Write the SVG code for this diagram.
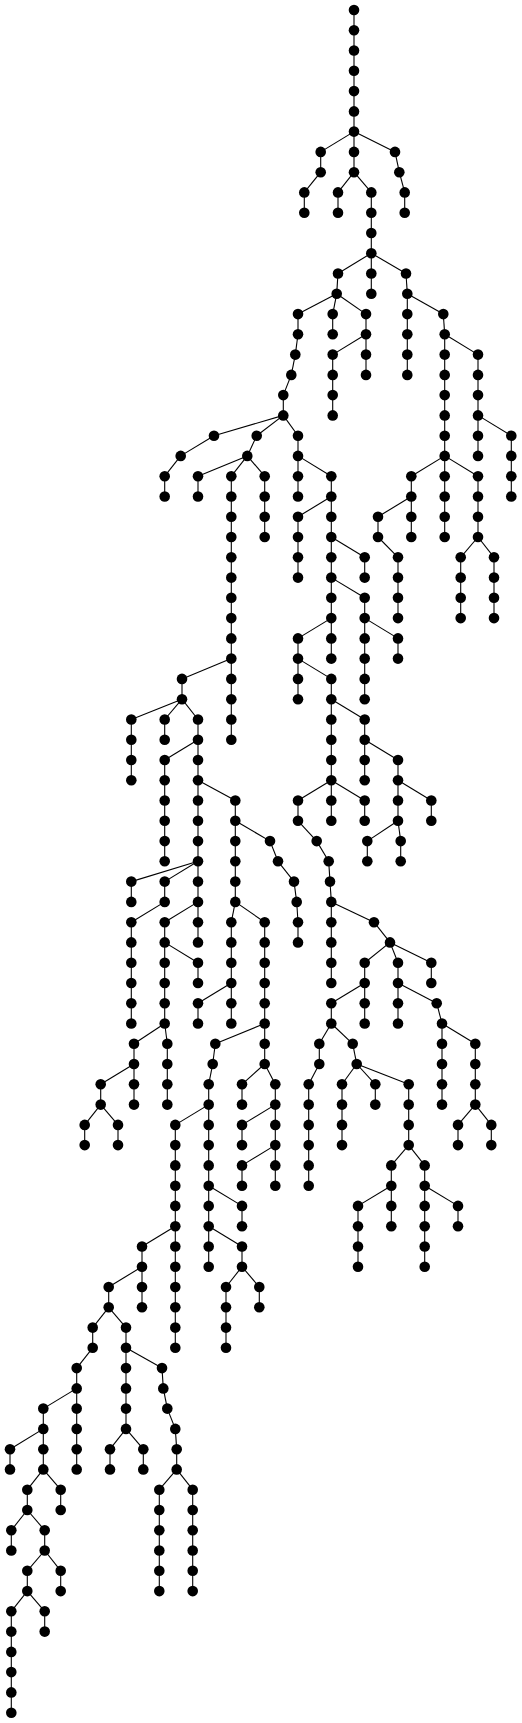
<svg xmlns="http://www.w3.org/2000/svg" xmlns:xlink="http://www.w3.org/1999/xlink" width="522" height="1723" viewBox="0 0 522 1723">
<style>
#edges line{stroke:#000;stroke-width:1.1;fill:none}
.nd{fill:#000}
</style>
<defs><circle id="d" class="nd" cx="0" cy="0" r="5.3"/></defs>
<rect width="522" height="1723" fill="#fff"/>
<g id="edges">
<line x1="354" y1="10" x2="354" y2="30.3"/>
<line x1="354" y1="30.3" x2="354" y2="50.5"/>
<line x1="354" y1="50.5" x2="354" y2="70.8"/>
<line x1="354" y1="70.8" x2="354" y2="91.1"/>
<line x1="354" y1="91.1" x2="354" y2="111.4"/>
<line x1="354" y1="111.4" x2="354" y2="131.6"/>
<line x1="354" y1="131.6" x2="320.7" y2="151.9"/><line x1="354" y1="131.6" x2="354" y2="151.9"/><line x1="354" y1="131.6" x2="395" y2="151.9"/>
<line x1="320.7" y1="151.9" x2="320.7" y2="172.2"/><line x1="354" y1="151.9" x2="354" y2="172.2"/><line x1="395" y1="151.9" x2="399.3" y2="172.2"/>
<line x1="320.7" y1="172.2" x2="304.3" y2="192.4"/><line x1="354" y1="172.2" x2="338" y2="192.4"/><line x1="354" y1="172.2" x2="371.3" y2="192.4"/><line x1="399.3" y1="172.2" x2="404.7" y2="192.4"/>
<line x1="304.3" y1="192.4" x2="304.3" y2="212.7"/><line x1="338" y1="192.4" x2="338" y2="212.7"/><line x1="371.3" y1="192.4" x2="371.3" y2="212.7"/><line x1="404.7" y1="192.4" x2="404.7" y2="212.7"/>
<line x1="371.3" y1="212.7" x2="371.3" y2="233"/>
<line x1="371.3" y1="233" x2="371.3" y2="253.2"/>
<line x1="371.3" y1="253.2" x2="338" y2="273.5"/><line x1="371.3" y1="253.2" x2="371.3" y2="273.5"/><line x1="371.3" y1="253.2" x2="406" y2="273.5"/>
<line x1="338" y1="273.5" x2="336.7" y2="293.8"/><line x1="371.3" y1="273.5" x2="371.3" y2="293.8"/><line x1="406" y1="273.5" x2="407.3" y2="293.8"/>
<line x1="336.7" y1="293.8" x2="298" y2="314.1"/><line x1="336.7" y1="293.8" x2="332.7" y2="314.1"/><line x1="336.7" y1="293.8" x2="366" y2="314.1"/><line x1="407.3" y1="293.8" x2="407.3" y2="314.1"/><line x1="407.3" y1="293.8" x2="443.3" y2="314.1"/>
<line x1="298" y1="314.1" x2="298" y2="334.3"/><line x1="332.7" y1="314.1" x2="332.7" y2="334.3"/><line x1="366" y1="314.1" x2="366" y2="334.3"/><line x1="407.3" y1="314.1" x2="407.3" y2="334.3"/><line x1="443.3" y1="314.1" x2="444.7" y2="334.3"/>
<line x1="298" y1="334.3" x2="295.3" y2="354.6"/><line x1="366" y1="334.3" x2="332.7" y2="354.6"/><line x1="366" y1="334.3" x2="366" y2="354.6"/><line x1="407.3" y1="334.3" x2="407.3" y2="354.6"/><line x1="444.7" y1="334.3" x2="444.7" y2="354.6"/><line x1="444.7" y1="334.3" x2="478" y2="354.6"/>
<line x1="295.3" y1="354.6" x2="291.3" y2="374.9"/><line x1="332.7" y1="354.6" x2="332.7" y2="374.9"/><line x1="366" y1="354.6" x2="366" y2="374.9"/><line x1="407.3" y1="354.6" x2="407.3" y2="374.9"/><line x1="444.7" y1="354.6" x2="444.7" y2="374.9"/><line x1="478" y1="354.6" x2="478" y2="374.9"/>
<line x1="291.3" y1="374.9" x2="283.3" y2="395.1"/><line x1="332.7" y1="374.9" x2="332.7" y2="395.1"/><line x1="444.7" y1="374.9" x2="444.7" y2="395.1"/><line x1="478" y1="374.9" x2="478" y2="395.1"/>
<line x1="283.3" y1="395.1" x2="283.3" y2="415.4"/><line x1="332.7" y1="395.1" x2="332.7" y2="415.4"/><line x1="444.7" y1="395.1" x2="444.7" y2="415.4"/><line x1="478" y1="395.1" x2="478" y2="415.4"/>
<line x1="283.3" y1="415.4" x2="214" y2="435.7"/><line x1="283.3" y1="415.4" x2="256.7" y2="435.7"/><line x1="283.3" y1="415.4" x2="298" y2="435.7"/><line x1="444.7" y1="415.4" x2="444.7" y2="435.7"/><line x1="478" y1="415.4" x2="478" y2="435.7"/><line x1="478" y1="415.4" x2="511.3" y2="435.7"/>
<line x1="214" y1="435.7" x2="180.7" y2="455.9"/><line x1="256.7" y1="435.7" x2="247.3" y2="455.9"/><line x1="298" y1="435.7" x2="298" y2="455.9"/><line x1="444.7" y1="435.7" x2="444.7" y2="455.9"/><line x1="478" y1="435.7" x2="478" y2="455.9"/><line x1="511.3" y1="435.7" x2="511.3" y2="455.9"/>
<line x1="180.7" y1="455.9" x2="164.7" y2="476.2"/><line x1="247.3" y1="455.9" x2="198" y2="476.2"/><line x1="247.3" y1="455.9" x2="231.3" y2="476.2"/><line x1="247.3" y1="455.9" x2="264.7" y2="476.2"/><line x1="298" y1="455.9" x2="298" y2="476.2"/><line x1="298" y1="455.9" x2="331.3" y2="476.2"/><line x1="444.7" y1="455.9" x2="411.3" y2="476.2"/><line x1="444.7" y1="455.9" x2="444.7" y2="476.2"/><line x1="444.7" y1="455.9" x2="478" y2="476.2"/><line x1="511.3" y1="455.9" x2="511.3" y2="476.2"/>
<line x1="164.7" y1="476.2" x2="164.7" y2="496.5"/><line x1="198" y1="476.2" x2="198" y2="496.5"/><line x1="231.3" y1="476.2" x2="231.3" y2="496.5"/><line x1="264.7" y1="476.2" x2="264.7" y2="496.5"/><line x1="298" y1="476.2" x2="298" y2="496.5"/><line x1="331.3" y1="476.2" x2="331.3" y2="496.5"/><line x1="411.3" y1="476.2" x2="411.3" y2="496.5"/><line x1="444.7" y1="476.2" x2="444.7" y2="496.5"/><line x1="478" y1="476.2" x2="478" y2="496.5"/><line x1="511.3" y1="476.2" x2="511.3" y2="496.5"/>
<line x1="231.3" y1="496.5" x2="231.3" y2="516.8"/><line x1="264.7" y1="496.5" x2="264.7" y2="516.8"/><line x1="331.3" y1="496.5" x2="298" y2="516.8"/><line x1="331.3" y1="496.5" x2="331.3" y2="516.8"/><line x1="411.3" y1="496.5" x2="378" y2="516.8"/><line x1="411.3" y1="496.5" x2="411.3" y2="516.8"/><line x1="444.7" y1="496.5" x2="444.7" y2="516.8"/><line x1="478" y1="496.5" x2="478" y2="516.8"/>
<line x1="231.3" y1="516.8" x2="231.3" y2="537"/><line x1="264.7" y1="516.8" x2="264.7" y2="537"/><line x1="298" y1="516.8" x2="298" y2="537"/><line x1="331.3" y1="516.8" x2="331.3" y2="537"/><line x1="378" y1="516.8" x2="378" y2="537"/><line x1="411.3" y1="516.8" x2="411.3" y2="537"/><line x1="444.7" y1="516.8" x2="444.7" y2="537"/><line x1="478" y1="516.8" x2="478" y2="537"/>
<line x1="231.3" y1="537" x2="231.3" y2="557.3"/><line x1="298" y1="537" x2="298" y2="557.3"/><line x1="331.3" y1="537" x2="331.3" y2="557.3"/><line x1="331.3" y1="537" x2="364.7" y2="557.3"/><line x1="378" y1="537" x2="398" y2="557.3"/><line x1="478" y1="537" x2="460.7" y2="557.3"/><line x1="478" y1="537" x2="494" y2="557.3"/>
<line x1="231.3" y1="557.3" x2="231.3" y2="577.6"/><line x1="298" y1="557.3" x2="298" y2="577.6"/><line x1="331.3" y1="557.3" x2="331.3" y2="577.6"/><line x1="364.7" y1="557.3" x2="364.7" y2="577.6"/><line x1="398" y1="557.3" x2="398" y2="577.6"/><line x1="460.7" y1="557.3" x2="460.7" y2="577.6"/><line x1="494" y1="557.3" x2="494" y2="577.6"/>
<line x1="231.3" y1="577.6" x2="231.3" y2="597.8"/><line x1="331.3" y1="577.6" x2="331.3" y2="597.8"/><line x1="331.3" y1="577.6" x2="364.7" y2="597.8"/><line x1="398" y1="577.6" x2="398" y2="597.8"/><line x1="460.7" y1="577.6" x2="460.7" y2="597.8"/><line x1="494" y1="577.6" x2="494" y2="597.8"/>
<line x1="231.3" y1="597.8" x2="231.3" y2="618.1"/><line x1="331.3" y1="597.8" x2="331.3" y2="618.1"/><line x1="364.7" y1="597.8" x2="364.7" y2="618.1"/><line x1="398" y1="597.8" x2="398" y2="618.1"/><line x1="460.7" y1="597.8" x2="460.7" y2="618.1"/><line x1="494" y1="597.8" x2="494" y2="618.1"/>
<line x1="231.3" y1="618.1" x2="231.3" y2="638.4"/><line x1="331.3" y1="618.1" x2="298" y2="638.4"/><line x1="331.3" y1="618.1" x2="331.3" y2="638.4"/><line x1="364.7" y1="618.1" x2="364.7" y2="638.4"/><line x1="364.7" y1="618.1" x2="398" y2="638.4"/>
<line x1="231.3" y1="638.4" x2="231.3" y2="658.6"/><line x1="298" y1="638.4" x2="298" y2="658.6"/><line x1="331.3" y1="638.4" x2="331.3" y2="658.6"/><line x1="364.7" y1="638.4" x2="364.7" y2="658.6"/><line x1="398" y1="638.4" x2="398" y2="658.6"/>
<line x1="231.3" y1="658.6" x2="182" y2="678.9"/><line x1="231.3" y1="658.6" x2="231.3" y2="678.9"/><line x1="298" y1="658.6" x2="298" y2="678.9"/><line x1="298" y1="658.6" x2="331.3" y2="678.9"/><line x1="364.7" y1="658.6" x2="364.7" y2="678.9"/>
<line x1="182" y1="678.9" x2="182" y2="699.2"/><line x1="231.3" y1="678.9" x2="231.3" y2="699.2"/><line x1="298" y1="678.9" x2="298" y2="699.2"/><line x1="331.3" y1="678.9" x2="331.3" y2="699.2"/><line x1="364.7" y1="678.9" x2="364.7" y2="699.2"/>
<line x1="182" y1="699.2" x2="131.3" y2="719.5"/><line x1="182" y1="699.2" x2="164.7" y2="719.5"/><line x1="182" y1="699.2" x2="198" y2="719.5"/><line x1="231.3" y1="699.2" x2="231.3" y2="719.5"/><line x1="331.3" y1="699.2" x2="331.3" y2="719.5"/><line x1="331.3" y1="699.2" x2="364.7" y2="719.5"/>
<line x1="131.3" y1="719.5" x2="131.3" y2="739.7"/><line x1="164.7" y1="719.5" x2="164.7" y2="739.7"/><line x1="198" y1="719.5" x2="198" y2="739.7"/><line x1="231.3" y1="719.5" x2="231.3" y2="739.7"/><line x1="331.3" y1="719.5" x2="331.3" y2="739.7"/><line x1="364.7" y1="719.5" x2="364.7" y2="739.7"/>
<line x1="131.3" y1="739.7" x2="131.3" y2="760"/><line x1="198" y1="739.7" x2="164.7" y2="760"/><line x1="198" y1="739.7" x2="198" y2="760"/><line x1="331.3" y1="739.7" x2="331.3" y2="760"/><line x1="364.7" y1="739.7" x2="364.7" y2="760"/><line x1="364.7" y1="739.7" x2="398" y2="760"/>
<line x1="131.3" y1="760" x2="131.3" y2="780.3"/><line x1="164.7" y1="760" x2="164.7" y2="780.3"/><line x1="198" y1="760" x2="198" y2="780.3"/><line x1="331.3" y1="760" x2="331.3" y2="780.3"/><line x1="364.7" y1="760" x2="364.7" y2="780.3"/><line x1="398" y1="760" x2="398" y2="780.3"/>
<line x1="164.7" y1="780.3" x2="164.7" y2="800.5"/><line x1="198" y1="780.3" x2="198" y2="800.5"/><line x1="198" y1="780.3" x2="235.3" y2="800.5"/><line x1="331.3" y1="780.3" x2="298" y2="800.5"/><line x1="331.3" y1="780.3" x2="331.3" y2="800.5"/><line x1="331.3" y1="780.3" x2="364.7" y2="800.5"/><line x1="398" y1="780.3" x2="398" y2="800.5"/><line x1="398" y1="780.3" x2="431.3" y2="800.5"/>
<line x1="164.7" y1="800.5" x2="164.7" y2="820.8"/><line x1="198" y1="800.5" x2="198" y2="820.8"/><line x1="235.3" y1="800.5" x2="235.3" y2="820.8"/><line x1="298" y1="800.5" x2="298" y2="820.8"/><line x1="331.3" y1="800.5" x2="331.3" y2="820.8"/><line x1="364.7" y1="800.5" x2="364.7" y2="820.8"/><line x1="398" y1="800.5" x2="398" y2="820.8"/><line x1="431.3" y1="800.5" x2="431.3" y2="820.8"/>
<line x1="164.7" y1="820.8" x2="164.7" y2="841.1"/><line x1="198" y1="820.8" x2="198" y2="841.1"/><line x1="235.3" y1="820.8" x2="235.3" y2="841.1"/><line x1="235.3" y1="820.8" x2="270" y2="841.1"/><line x1="298" y1="820.8" x2="316.7" y2="841.1"/><line x1="398" y1="820.8" x2="367.3" y2="841.1"/><line x1="398" y1="820.8" x2="400.7" y2="841.1"/>
<line x1="164.7" y1="841.1" x2="164.7" y2="861.3"/><line x1="198" y1="841.1" x2="198" y2="861.3"/><line x1="235.3" y1="841.1" x2="235.3" y2="861.3"/><line x1="270" y1="841.1" x2="278" y2="861.3"/><line x1="316.7" y1="841.1" x2="328.7" y2="861.3"/><line x1="367.3" y1="841.1" x2="367.3" y2="861.3"/><line x1="400.7" y1="841.1" x2="400.7" y2="861.3"/>
<line x1="198" y1="861.3" x2="131.3" y2="881.6"/><line x1="198" y1="861.3" x2="164.7" y2="881.6"/><line x1="198" y1="861.3" x2="198" y2="881.6"/><line x1="235.3" y1="861.3" x2="235.3" y2="881.6"/><line x1="278" y1="861.3" x2="294" y2="881.6"/><line x1="328.7" y1="861.3" x2="330" y2="881.6"/>
<line x1="131.3" y1="881.6" x2="131.3" y2="901.9"/><line x1="164.7" y1="881.6" x2="164.7" y2="901.9"/><line x1="198" y1="881.6" x2="198" y2="901.9"/><line x1="235.3" y1="881.6" x2="235.3" y2="901.9"/><line x1="294" y1="881.6" x2="296.7" y2="901.9"/><line x1="330" y1="881.6" x2="331.3" y2="901.9"/>
<line x1="164.7" y1="901.9" x2="131.3" y2="922.2"/><line x1="198" y1="901.9" x2="164.7" y2="922.2"/><line x1="198" y1="901.9" x2="198" y2="922.2"/><line x1="235.3" y1="901.9" x2="231.3" y2="922.2"/><line x1="235.3" y1="901.9" x2="264.7" y2="922.2"/><line x1="296.7" y1="901.9" x2="298" y2="922.2"/><line x1="331.3" y1="901.9" x2="331.3" y2="922.2"/><line x1="331.3" y1="901.9" x2="374" y2="922.2"/>
<line x1="131.3" y1="922.2" x2="131.3" y2="942.4"/><line x1="164.7" y1="922.2" x2="164.7" y2="942.4"/><line x1="198" y1="922.2" x2="198" y2="942.4"/><line x1="231.3" y1="922.2" x2="231.3" y2="942.4"/><line x1="264.7" y1="922.2" x2="264.7" y2="942.4"/><line x1="298" y1="922.2" x2="298" y2="942.4"/><line x1="331.3" y1="922.2" x2="331.3" y2="942.4"/><line x1="374" y1="922.2" x2="390" y2="942.4"/>
<line x1="131.3" y1="942.4" x2="131.3" y2="962.7"/><line x1="164.7" y1="942.4" x2="164.7" y2="962.7"/><line x1="164.7" y1="942.4" x2="198" y2="962.7"/><line x1="231.3" y1="942.4" x2="231.3" y2="962.7"/><line x1="264.7" y1="942.4" x2="264.7" y2="962.7"/><line x1="331.3" y1="942.4" x2="331.3" y2="962.7"/><line x1="390" y1="942.4" x2="364.7" y2="962.7"/><line x1="390" y1="942.4" x2="398" y2="962.7"/><line x1="390" y1="942.4" x2="431.3" y2="962.7"/>
<line x1="131.3" y1="962.7" x2="131.3" y2="983"/><line x1="164.7" y1="962.7" x2="164.7" y2="983"/><line x1="198" y1="962.7" x2="198" y2="983"/><line x1="231.3" y1="962.7" x2="231.3" y2="983"/><line x1="264.7" y1="962.7" x2="264.7" y2="983"/><line x1="331.3" y1="962.7" x2="331.3" y2="983"/><line x1="364.7" y1="962.7" x2="364.7" y2="983"/><line x1="398" y1="962.7" x2="398" y2="983"/><line x1="431.3" y1="962.7" x2="431.3" y2="983"/>
<line x1="131.3" y1="983" x2="131.3" y2="1003.2"/><line x1="164.7" y1="983" x2="164.7" y2="1003.2"/><line x1="231.3" y1="983" x2="198" y2="1003.2"/><line x1="231.3" y1="983" x2="231.3" y2="1003.2"/><line x1="264.7" y1="983" x2="264.7" y2="1003.2"/><line x1="364.7" y1="983" x2="331.3" y2="1003.2"/><line x1="364.7" y1="983" x2="364.7" y2="1003.2"/><line x1="398" y1="983" x2="398" y2="1003.2"/><line x1="398" y1="983" x2="436.7" y2="1003.2"/>
<line x1="131.3" y1="1003.2" x2="131.3" y2="1023.5"/><line x1="164.7" y1="1003.2" x2="164.7" y2="1023.5"/><line x1="198" y1="1003.2" x2="198" y2="1023.5"/><line x1="231.3" y1="1003.2" x2="231.3" y2="1023.5"/><line x1="264.7" y1="1003.2" x2="264.7" y2="1023.5"/><line x1="331.3" y1="1003.2" x2="331.3" y2="1023.5"/><line x1="364.7" y1="1003.2" x2="364.7" y2="1023.5"/><line x1="398" y1="1003.2" x2="398" y2="1023.5"/><line x1="436.7" y1="1003.2" x2="442" y2="1023.5"/>
<line x1="164.7" y1="1023.5" x2="134" y2="1043.8"/><line x1="164.7" y1="1023.5" x2="167.3" y2="1043.8"/><line x1="264.7" y1="1023.5" x2="215.3" y2="1043.8"/><line x1="264.7" y1="1023.5" x2="264.7" y2="1043.8"/><line x1="331.3" y1="1023.5" x2="319.3" y2="1043.8"/><line x1="331.3" y1="1023.5" x2="352.7" y2="1043.8"/><line x1="442" y1="1023.5" x2="442" y2="1043.8"/><line x1="442" y1="1023.5" x2="475.3" y2="1043.8"/>
<line x1="134" y1="1043.8" x2="134" y2="1064"/><line x1="167.3" y1="1043.8" x2="167.3" y2="1064"/><line x1="215.3" y1="1043.8" x2="212.7" y2="1064"/><line x1="264.7" y1="1043.8" x2="264.7" y2="1064"/><line x1="319.3" y1="1043.8" x2="319.3" y2="1064"/><line x1="352.7" y1="1043.8" x2="356.7" y2="1064"/><line x1="442" y1="1043.8" x2="442" y2="1064"/><line x1="475.3" y1="1043.8" x2="475.3" y2="1064"/>
<line x1="134" y1="1064" x2="100.7" y2="1084.3"/><line x1="134" y1="1064" x2="134" y2="1084.3"/><line x1="167.3" y1="1064" x2="167.3" y2="1084.3"/><line x1="212.7" y1="1064" x2="208.7" y2="1084.3"/><line x1="264.7" y1="1064" x2="242" y2="1084.3"/><line x1="264.7" y1="1064" x2="275.3" y2="1084.3"/><line x1="319.3" y1="1064" x2="308.7" y2="1084.3"/><line x1="356.7" y1="1064" x2="342" y2="1084.3"/><line x1="356.7" y1="1064" x2="375.3" y2="1084.3"/><line x1="356.7" y1="1064" x2="408.7" y2="1084.3"/><line x1="442" y1="1064" x2="442" y2="1084.3"/><line x1="475.3" y1="1064" x2="475.3" y2="1084.3"/>
<line x1="100.7" y1="1084.3" x2="100.7" y2="1104.6"/><line x1="134" y1="1084.3" x2="134" y2="1104.6"/><line x1="167.3" y1="1084.3" x2="167.3" y2="1104.6"/><line x1="208.7" y1="1084.3" x2="208.7" y2="1104.6"/><line x1="242" y1="1084.3" x2="242" y2="1104.6"/><line x1="275.3" y1="1084.3" x2="275.3" y2="1104.6"/><line x1="308.7" y1="1084.3" x2="308.7" y2="1104.6"/><line x1="342" y1="1084.3" x2="342" y2="1104.6"/><line x1="375.3" y1="1084.3" x2="375.3" y2="1104.6"/><line x1="408.7" y1="1084.3" x2="408.7" y2="1104.6"/><line x1="442" y1="1084.3" x2="442" y2="1104.6"/><line x1="475.3" y1="1084.3" x2="475.3" y2="1104.6"/>
<line x1="100.7" y1="1104.6" x2="84.7" y2="1124.9"/><line x1="100.7" y1="1104.6" x2="118" y2="1124.9"/><line x1="208.7" y1="1104.6" x2="175.3" y2="1124.9"/><line x1="208.7" y1="1104.6" x2="208.7" y2="1124.9"/><line x1="275.3" y1="1104.6" x2="242" y2="1124.9"/><line x1="275.3" y1="1104.6" x2="275.3" y2="1124.9"/><line x1="308.7" y1="1104.6" x2="308.7" y2="1124.9"/><line x1="342" y1="1104.6" x2="342" y2="1124.9"/><line x1="408.7" y1="1104.6" x2="408.7" y2="1124.9"/><line x1="475.3" y1="1104.6" x2="458" y2="1124.9"/><line x1="475.3" y1="1104.6" x2="491.3" y2="1124.9"/>
<line x1="84.7" y1="1124.9" x2="84.7" y2="1145.1"/><line x1="118" y1="1124.9" x2="118" y2="1145.1"/><line x1="175.3" y1="1124.9" x2="175.3" y2="1145.1"/><line x1="208.7" y1="1124.9" x2="208.7" y2="1145.1"/><line x1="242" y1="1124.9" x2="242" y2="1145.1"/><line x1="275.3" y1="1124.9" x2="275.3" y2="1145.1"/><line x1="308.7" y1="1124.9" x2="308.7" y2="1145.1"/><line x1="342" y1="1124.9" x2="342" y2="1145.1"/><line x1="408.7" y1="1124.9" x2="408.7" y2="1145.1"/><line x1="458" y1="1124.9" x2="458" y2="1145.1"/><line x1="491.3" y1="1124.9" x2="491.3" y2="1145.1"/>
<line x1="175.3" y1="1145.1" x2="175.3" y2="1165.4"/><line x1="208.7" y1="1145.1" x2="208.7" y2="1165.4"/><line x1="275.3" y1="1145.1" x2="242" y2="1165.4"/><line x1="275.3" y1="1145.1" x2="275.3" y2="1165.4"/><line x1="308.7" y1="1145.1" x2="308.7" y2="1165.4"/><line x1="408.7" y1="1145.1" x2="391.3" y2="1165.4"/><line x1="408.7" y1="1145.1" x2="424.7" y2="1165.4"/>
<line x1="175.3" y1="1165.4" x2="175.3" y2="1185.7"/><line x1="208.7" y1="1165.4" x2="208.7" y2="1185.7"/><line x1="242" y1="1165.4" x2="242" y2="1185.7"/><line x1="275.3" y1="1165.4" x2="275.3" y2="1185.7"/><line x1="308.7" y1="1165.4" x2="308.7" y2="1185.7"/><line x1="391.3" y1="1165.4" x2="391.3" y2="1185.7"/><line x1="424.7" y1="1165.4" x2="424.7" y2="1185.7"/>
<line x1="175.3" y1="1185.7" x2="175.3" y2="1205.9"/><line x1="208.7" y1="1185.7" x2="208.7" y2="1205.9"/><line x1="208.7" y1="1185.7" x2="242" y2="1205.9"/><line x1="391.3" y1="1185.7" x2="358" y2="1205.9"/><line x1="391.3" y1="1185.7" x2="391.3" y2="1205.9"/><line x1="424.7" y1="1185.7" x2="424.7" y2="1205.9"/><line x1="424.7" y1="1185.7" x2="458" y2="1205.9"/>
<line x1="175.3" y1="1205.9" x2="175.3" y2="1226.2"/><line x1="208.7" y1="1205.9" x2="208.7" y2="1226.2"/><line x1="242" y1="1205.9" x2="242" y2="1226.2"/><line x1="358" y1="1205.9" x2="358" y2="1226.2"/><line x1="391.3" y1="1205.9" x2="391.3" y2="1226.2"/><line x1="424.7" y1="1205.9" x2="424.7" y2="1226.2"/><line x1="458" y1="1205.9" x2="458" y2="1226.2"/>
<line x1="175.3" y1="1226.2" x2="142" y2="1246.5"/><line x1="175.3" y1="1226.2" x2="175.3" y2="1246.5"/><line x1="208.7" y1="1226.2" x2="208.7" y2="1246.5"/><line x1="208.7" y1="1226.2" x2="242" y2="1246.5"/><line x1="358" y1="1226.2" x2="358" y2="1246.5"/><line x1="424.7" y1="1226.2" x2="424.7" y2="1246.5"/>
<line x1="142" y1="1246.5" x2="142" y2="1266.7"/><line x1="175.3" y1="1246.5" x2="175.3" y2="1266.7"/><line x1="208.7" y1="1246.5" x2="208.7" y2="1266.7"/><line x1="242" y1="1246.5" x2="242" y2="1266.7"/><line x1="358" y1="1246.5" x2="358" y2="1266.7"/><line x1="424.7" y1="1246.5" x2="424.7" y2="1266.7"/>
<line x1="142" y1="1266.7" x2="108.7" y2="1287"/><line x1="142" y1="1266.7" x2="142" y2="1287"/><line x1="175.3" y1="1266.7" x2="175.3" y2="1287"/><line x1="242" y1="1266.7" x2="226" y2="1287"/><line x1="242" y1="1266.7" x2="259.3" y2="1287"/>
<line x1="108.7" y1="1287" x2="108.7" y2="1307.3"/><line x1="142" y1="1287" x2="142" y2="1307.3"/><line x1="175.3" y1="1287" x2="175.3" y2="1307.3"/><line x1="226" y1="1287" x2="226" y2="1307.3"/><line x1="259.3" y1="1287" x2="259.3" y2="1307.3"/>
<line x1="108.7" y1="1307.3" x2="92.7" y2="1327.6"/><line x1="108.7" y1="1307.3" x2="126" y2="1327.6"/><line x1="175.3" y1="1307.3" x2="175.3" y2="1327.6"/><line x1="226" y1="1307.3" x2="226" y2="1327.6"/>
<line x1="92.7" y1="1327.6" x2="92.7" y2="1347.8"/><line x1="126" y1="1327.6" x2="126" y2="1347.8"/><line x1="175.3" y1="1327.6" x2="175.3" y2="1347.8"/><line x1="226" y1="1327.6" x2="226" y2="1347.8"/>
<line x1="92.7" y1="1347.8" x2="76.7" y2="1368.1"/><line x1="126" y1="1347.8" x2="126" y2="1368.1"/><line x1="126" y1="1347.8" x2="162" y2="1368.1"/>
<line x1="76.7" y1="1368.1" x2="76.7" y2="1388.4"/><line x1="126" y1="1368.1" x2="126" y2="1388.4"/><line x1="162" y1="1368.1" x2="163.3" y2="1388.4"/>
<line x1="76.7" y1="1388.4" x2="43.3" y2="1408.6"/><line x1="76.7" y1="1388.4" x2="76.7" y2="1408.6"/><line x1="126" y1="1388.4" x2="126" y2="1408.6"/><line x1="163.3" y1="1388.4" x2="167.3" y2="1408.6"/>
<line x1="43.3" y1="1408.6" x2="43.3" y2="1428.9"/><line x1="76.7" y1="1408.6" x2="76.7" y2="1428.9"/><line x1="126" y1="1408.6" x2="126" y2="1428.9"/><line x1="167.3" y1="1408.6" x2="175.3" y2="1428.9"/>
<line x1="43.3" y1="1428.9" x2="10" y2="1449.2"/><line x1="43.3" y1="1428.9" x2="43.3" y2="1449.2"/><line x1="76.7" y1="1428.9" x2="76.7" y2="1449.2"/><line x1="126" y1="1428.9" x2="110" y2="1449.2"/><line x1="126" y1="1428.9" x2="143.3" y2="1449.2"/><line x1="175.3" y1="1428.9" x2="176.7" y2="1449.2"/>
<line x1="10" y1="1449.2" x2="10" y2="1469.4"/><line x1="43.3" y1="1449.2" x2="43.3" y2="1469.4"/><line x1="76.7" y1="1449.2" x2="76.7" y2="1469.4"/><line x1="110" y1="1449.2" x2="110" y2="1469.4"/><line x1="143.3" y1="1449.2" x2="143.3" y2="1469.4"/><line x1="176.7" y1="1449.2" x2="176.7" y2="1469.4"/>
<line x1="43.3" y1="1469.4" x2="27.3" y2="1489.7"/><line x1="43.3" y1="1469.4" x2="60.7" y2="1489.7"/><line x1="176.7" y1="1469.4" x2="159.3" y2="1489.7"/><line x1="176.7" y1="1469.4" x2="192.7" y2="1489.7"/>
<line x1="27.3" y1="1489.7" x2="27.3" y2="1510"/><line x1="60.7" y1="1489.7" x2="60.7" y2="1510"/><line x1="159.3" y1="1489.7" x2="159.3" y2="1510"/><line x1="192.7" y1="1489.7" x2="192.7" y2="1510"/>
<line x1="27.3" y1="1510" x2="11.3" y2="1530.3"/><line x1="27.3" y1="1510" x2="44.7" y2="1530.3"/><line x1="159.3" y1="1510" x2="159.3" y2="1530.3"/><line x1="192.7" y1="1510" x2="192.7" y2="1530.3"/>
<line x1="11.3" y1="1530.3" x2="11.3" y2="1550.5"/><line x1="44.7" y1="1530.3" x2="44.7" y2="1550.5"/><line x1="159.3" y1="1530.3" x2="159.3" y2="1550.5"/><line x1="192.7" y1="1530.3" x2="192.7" y2="1550.5"/>
<line x1="44.7" y1="1550.5" x2="27.3" y2="1570.8"/><line x1="44.7" y1="1550.5" x2="60.7" y2="1570.8"/><line x1="159.3" y1="1550.5" x2="159.3" y2="1570.8"/><line x1="192.7" y1="1550.5" x2="192.7" y2="1570.8"/>
<line x1="27.3" y1="1570.8" x2="27.3" y2="1591.1"/><line x1="60.7" y1="1570.8" x2="60.7" y2="1591.1"/><line x1="159.3" y1="1570.8" x2="159.3" y2="1591.1"/><line x1="192.7" y1="1570.8" x2="192.7" y2="1591.1"/>
<line x1="27.3" y1="1591.1" x2="11.3" y2="1611.3"/><line x1="27.3" y1="1591.1" x2="44.7" y2="1611.3"/>
<line x1="11.3" y1="1611.3" x2="11.3" y2="1631.6"/><line x1="44.7" y1="1611.3" x2="44.7" y2="1631.6"/>
<line x1="11.3" y1="1631.6" x2="11.3" y2="1651.9"/>
<line x1="11.3" y1="1651.9" x2="11.3" y2="1672.1"/>
<line x1="11.3" y1="1672.1" x2="11.3" y2="1692.4"/>
<line x1="11.3" y1="1692.4" x2="11.3" y2="1712.7"/>
</g>
<g id="nodes">
<g id="n0_0"><use href="#d" x="354" y="10"/></g>
<g id="n1_0"><use href="#d" x="354" y="30.3"/></g>
<g id="n2_0"><use href="#d" x="354" y="50.5"/></g>
<g id="n3_0"><use href="#d" x="354" y="70.8"/></g>
<g id="n4_0"><use href="#d" x="354" y="91.1"/></g>
<g id="n5_0"><use href="#d" x="354" y="111.4"/></g>
<g id="n6_0"><use href="#d" x="354" y="131.6"/></g>
<g id="n7_0"><use href="#d" x="320.7" y="151.9"/></g><g id="n7_1"><use href="#d" x="354" y="151.9"/></g><g id="n7_2"><use href="#d" x="395" y="151.9"/></g>
<g id="n8_0"><use href="#d" x="320.7" y="172.2"/></g><g id="n8_1"><use href="#d" x="354" y="172.2"/></g><g id="n8_2"><use href="#d" x="399.3" y="172.2"/></g>
<g id="n9_0"><use href="#d" x="304.3" y="192.4"/></g><g id="n9_1"><use href="#d" x="338" y="192.4"/></g><g id="n9_2"><use href="#d" x="371.3" y="192.4"/></g><g id="n9_3"><use href="#d" x="404.7" y="192.4"/></g>
<g id="n10_0"><use href="#d" x="304.3" y="212.7"/></g><g id="n10_1"><use href="#d" x="338" y="212.7"/></g><g id="n10_2"><use href="#d" x="371.3" y="212.7"/></g><g id="n10_3"><use href="#d" x="404.7" y="212.7"/></g>
<g id="n11_0"><use href="#d" x="371.3" y="233"/></g>
<g id="n12_0"><use href="#d" x="371.3" y="253.2"/></g>
<g id="n13_0"><use href="#d" x="338" y="273.5"/></g><g id="n13_1"><use href="#d" x="371.3" y="273.5"/></g><g id="n13_2"><use href="#d" x="406" y="273.5"/></g>
<g id="n14_0"><use href="#d" x="336.7" y="293.8"/></g><g id="n14_1"><use href="#d" x="371.3" y="293.8"/></g><g id="n14_2"><use href="#d" x="407.3" y="293.8"/></g>
<g id="n15_0"><use href="#d" x="298" y="314.1"/></g><g id="n15_1"><use href="#d" x="332.7" y="314.1"/></g><g id="n15_2"><use href="#d" x="366" y="314.1"/></g><g id="n15_3"><use href="#d" x="407.3" y="314.1"/></g><g id="n15_4"><use href="#d" x="443.3" y="314.1"/></g>
<g id="n16_0"><use href="#d" x="298" y="334.3"/></g><g id="n16_1"><use href="#d" x="332.7" y="334.3"/></g><g id="n16_2"><use href="#d" x="366" y="334.3"/></g><g id="n16_3"><use href="#d" x="407.3" y="334.3"/></g><g id="n16_4"><use href="#d" x="444.7" y="334.3"/></g>
<g id="n17_0"><use href="#d" x="295.3" y="354.6"/></g><g id="n17_1"><use href="#d" x="332.7" y="354.6"/></g><g id="n17_2"><use href="#d" x="366" y="354.6"/></g><g id="n17_3"><use href="#d" x="407.3" y="354.6"/></g><g id="n17_4"><use href="#d" x="444.7" y="354.6"/></g><g id="n17_5"><use href="#d" x="478" y="354.6"/></g>
<g id="n18_0"><use href="#d" x="291.3" y="374.9"/></g><g id="n18_1"><use href="#d" x="332.7" y="374.9"/></g><g id="n18_2"><use href="#d" x="366" y="374.9"/></g><g id="n18_3"><use href="#d" x="407.3" y="374.9"/></g><g id="n18_4"><use href="#d" x="444.7" y="374.9"/></g><g id="n18_5"><use href="#d" x="478" y="374.9"/></g>
<g id="n19_0"><use href="#d" x="283.3" y="395.1"/></g><g id="n19_1"><use href="#d" x="332.7" y="395.1"/></g><g id="n19_2"><use href="#d" x="444.7" y="395.1"/></g><g id="n19_3"><use href="#d" x="478" y="395.1"/></g>
<g id="n20_0"><use href="#d" x="283.3" y="415.4"/></g><g id="n20_1"><use href="#d" x="332.7" y="415.4"/></g><g id="n20_2"><use href="#d" x="444.7" y="415.4"/></g><g id="n20_3"><use href="#d" x="478" y="415.4"/></g>
<g id="n21_0"><use href="#d" x="214" y="435.7"/></g><g id="n21_1"><use href="#d" x="256.7" y="435.7"/></g><g id="n21_2"><use href="#d" x="298" y="435.7"/></g><g id="n21_3"><use href="#d" x="444.7" y="435.7"/></g><g id="n21_4"><use href="#d" x="478" y="435.7"/></g><g id="n21_5"><use href="#d" x="511.3" y="435.7"/></g>
<g id="n22_0"><use href="#d" x="180.7" y="455.9"/></g><g id="n22_1"><use href="#d" x="247.3" y="455.9"/></g><g id="n22_2"><use href="#d" x="298" y="455.9"/></g><g id="n22_3"><use href="#d" x="444.7" y="455.9"/></g><g id="n22_4"><use href="#d" x="478" y="455.9"/></g><g id="n22_5"><use href="#d" x="511.3" y="455.9"/></g>
<g id="n23_0"><use href="#d" x="164.7" y="476.2"/></g><g id="n23_1"><use href="#d" x="198" y="476.2"/></g><g id="n23_2"><use href="#d" x="231.3" y="476.2"/></g><g id="n23_3"><use href="#d" x="264.7" y="476.2"/></g><g id="n23_4"><use href="#d" x="298" y="476.2"/></g><g id="n23_5"><use href="#d" x="331.3" y="476.2"/></g><g id="n23_6"><use href="#d" x="411.3" y="476.2"/></g><g id="n23_7"><use href="#d" x="444.7" y="476.2"/></g><g id="n23_8"><use href="#d" x="478" y="476.2"/></g><g id="n23_9"><use href="#d" x="511.3" y="476.2"/></g>
<g id="n24_0"><use href="#d" x="164.7" y="496.5"/></g><g id="n24_1"><use href="#d" x="198" y="496.5"/></g><g id="n24_2"><use href="#d" x="231.3" y="496.5"/></g><g id="n24_3"><use href="#d" x="264.7" y="496.5"/></g><g id="n24_4"><use href="#d" x="298" y="496.5"/></g><g id="n24_5"><use href="#d" x="331.3" y="496.5"/></g><g id="n24_6"><use href="#d" x="411.3" y="496.5"/></g><g id="n24_7"><use href="#d" x="444.7" y="496.5"/></g><g id="n24_8"><use href="#d" x="478" y="496.5"/></g><g id="n24_9"><use href="#d" x="511.3" y="496.5"/></g>
<g id="n25_0"><use href="#d" x="231.3" y="516.8"/></g><g id="n25_1"><use href="#d" x="264.7" y="516.8"/></g><g id="n25_2"><use href="#d" x="298" y="516.8"/></g><g id="n25_3"><use href="#d" x="331.3" y="516.8"/></g><g id="n25_4"><use href="#d" x="378" y="516.8"/></g><g id="n25_5"><use href="#d" x="411.3" y="516.8"/></g><g id="n25_6"><use href="#d" x="444.7" y="516.8"/></g><g id="n25_7"><use href="#d" x="478" y="516.8"/></g>
<g id="n26_0"><use href="#d" x="231.3" y="537"/></g><g id="n26_1"><use href="#d" x="264.7" y="537"/></g><g id="n26_2"><use href="#d" x="298" y="537"/></g><g id="n26_3"><use href="#d" x="331.3" y="537"/></g><g id="n26_4"><use href="#d" x="378" y="537"/></g><g id="n26_5"><use href="#d" x="411.3" y="537"/></g><g id="n26_6"><use href="#d" x="444.7" y="537"/></g><g id="n26_7"><use href="#d" x="478" y="537"/></g>
<g id="n27_0"><use href="#d" x="231.3" y="557.3"/></g><g id="n27_1"><use href="#d" x="298" y="557.3"/></g><g id="n27_2"><use href="#d" x="331.3" y="557.3"/></g><g id="n27_3"><use href="#d" x="364.7" y="557.3"/></g><g id="n27_4"><use href="#d" x="398" y="557.3"/></g><g id="n27_5"><use href="#d" x="460.7" y="557.3"/></g><g id="n27_6"><use href="#d" x="494" y="557.3"/></g>
<g id="n28_0"><use href="#d" x="231.3" y="577.6"/></g><g id="n28_1"><use href="#d" x="298" y="577.6"/></g><g id="n28_2"><use href="#d" x="331.3" y="577.6"/></g><g id="n28_3"><use href="#d" x="364.7" y="577.6"/></g><g id="n28_4"><use href="#d" x="398" y="577.6"/></g><g id="n28_5"><use href="#d" x="460.7" y="577.6"/></g><g id="n28_6"><use href="#d" x="494" y="577.6"/></g>
<g id="n29_0"><use href="#d" x="231.3" y="597.8"/></g><g id="n29_1"><use href="#d" x="331.3" y="597.8"/></g><g id="n29_2"><use href="#d" x="364.7" y="597.8"/></g><g id="n29_3"><use href="#d" x="398" y="597.8"/></g><g id="n29_4"><use href="#d" x="460.7" y="597.8"/></g><g id="n29_5"><use href="#d" x="494" y="597.8"/></g>
<g id="n30_0"><use href="#d" x="231.3" y="618.1"/></g><g id="n30_1"><use href="#d" x="331.3" y="618.1"/></g><g id="n30_2"><use href="#d" x="364.7" y="618.1"/></g><g id="n30_3"><use href="#d" x="398" y="618.1"/></g><g id="n30_4"><use href="#d" x="460.7" y="618.1"/></g><g id="n30_5"><use href="#d" x="494" y="618.1"/></g>
<g id="n31_0"><use href="#d" x="231.3" y="638.4"/></g><g id="n31_1"><use href="#d" x="298" y="638.4"/></g><g id="n31_2"><use href="#d" x="331.3" y="638.4"/></g><g id="n31_3"><use href="#d" x="364.7" y="638.4"/></g><g id="n31_4"><use href="#d" x="398" y="638.4"/></g>
<g id="n32_0"><use href="#d" x="231.3" y="658.6"/></g><g id="n32_1"><use href="#d" x="298" y="658.6"/></g><g id="n32_2"><use href="#d" x="331.3" y="658.6"/></g><g id="n32_3"><use href="#d" x="364.7" y="658.6"/></g><g id="n32_4"><use href="#d" x="398" y="658.6"/></g>
<g id="n33_0"><use href="#d" x="182" y="678.9"/></g><g id="n33_1"><use href="#d" x="231.3" y="678.9"/></g><g id="n33_2"><use href="#d" x="298" y="678.9"/></g><g id="n33_3"><use href="#d" x="331.3" y="678.9"/></g><g id="n33_4"><use href="#d" x="364.7" y="678.9"/></g>
<g id="n34_0"><use href="#d" x="182" y="699.2"/></g><g id="n34_1"><use href="#d" x="231.3" y="699.2"/></g><g id="n34_2"><use href="#d" x="298" y="699.2"/></g><g id="n34_3"><use href="#d" x="331.3" y="699.2"/></g><g id="n34_4"><use href="#d" x="364.7" y="699.2"/></g>
<g id="n35_0"><use href="#d" x="131.3" y="719.5"/></g><g id="n35_1"><use href="#d" x="164.7" y="719.5"/></g><g id="n35_2"><use href="#d" x="198" y="719.5"/></g><g id="n35_3"><use href="#d" x="231.3" y="719.5"/></g><g id="n35_4"><use href="#d" x="331.3" y="719.5"/></g><g id="n35_5"><use href="#d" x="364.7" y="719.5"/></g>
<g id="n36_0"><use href="#d" x="131.3" y="739.7"/></g><g id="n36_1"><use href="#d" x="164.7" y="739.7"/></g><g id="n36_2"><use href="#d" x="198" y="739.7"/></g><g id="n36_3"><use href="#d" x="231.3" y="739.7"/></g><g id="n36_4"><use href="#d" x="331.3" y="739.7"/></g><g id="n36_5"><use href="#d" x="364.7" y="739.7"/></g>
<g id="n37_0"><use href="#d" x="131.3" y="760"/></g><g id="n37_1"><use href="#d" x="164.7" y="760"/></g><g id="n37_2"><use href="#d" x="198" y="760"/></g><g id="n37_3"><use href="#d" x="331.3" y="760"/></g><g id="n37_4"><use href="#d" x="364.7" y="760"/></g><g id="n37_5"><use href="#d" x="398" y="760"/></g>
<g id="n38_0"><use href="#d" x="131.3" y="780.3"/></g><g id="n38_1"><use href="#d" x="164.7" y="780.3"/></g><g id="n38_2"><use href="#d" x="198" y="780.3"/></g><g id="n38_3"><use href="#d" x="331.3" y="780.3"/></g><g id="n38_4"><use href="#d" x="364.7" y="780.3"/></g><g id="n38_5"><use href="#d" x="398" y="780.3"/></g>
<g id="n39_0"><use href="#d" x="164.7" y="800.5"/></g><g id="n39_1"><use href="#d" x="198" y="800.5"/></g><g id="n39_2"><use href="#d" x="235.3" y="800.5"/></g><g id="n39_3"><use href="#d" x="298" y="800.5"/></g><g id="n39_4"><use href="#d" x="331.3" y="800.5"/></g><g id="n39_5"><use href="#d" x="364.7" y="800.5"/></g><g id="n39_6"><use href="#d" x="398" y="800.5"/></g><g id="n39_7"><use href="#d" x="431.3" y="800.5"/></g>
<g id="n40_0"><use href="#d" x="164.7" y="820.8"/></g><g id="n40_1"><use href="#d" x="198" y="820.8"/></g><g id="n40_2"><use href="#d" x="235.3" y="820.8"/></g><g id="n40_3"><use href="#d" x="298" y="820.8"/></g><g id="n40_4"><use href="#d" x="331.3" y="820.8"/></g><g id="n40_5"><use href="#d" x="364.7" y="820.8"/></g><g id="n40_6"><use href="#d" x="398" y="820.8"/></g><g id="n40_7"><use href="#d" x="431.3" y="820.8"/></g>
<g id="n41_0"><use href="#d" x="164.7" y="841.1"/></g><g id="n41_1"><use href="#d" x="198" y="841.1"/></g><g id="n41_2"><use href="#d" x="235.3" y="841.1"/></g><g id="n41_3"><use href="#d" x="270" y="841.1"/></g><g id="n41_4"><use href="#d" x="316.7" y="841.1"/></g><g id="n41_5"><use href="#d" x="367.3" y="841.1"/></g><g id="n41_6"><use href="#d" x="400.7" y="841.1"/></g>
<g id="n42_0"><use href="#d" x="164.7" y="861.3"/></g><g id="n42_1"><use href="#d" x="198" y="861.3"/></g><g id="n42_2"><use href="#d" x="235.3" y="861.3"/></g><g id="n42_3"><use href="#d" x="278" y="861.3"/></g><g id="n42_4"><use href="#d" x="328.7" y="861.3"/></g><g id="n42_5"><use href="#d" x="367.3" y="861.3"/></g><g id="n42_6"><use href="#d" x="400.7" y="861.3"/></g>
<g id="n43_0"><use href="#d" x="131.3" y="881.6"/></g><g id="n43_1"><use href="#d" x="164.7" y="881.6"/></g><g id="n43_2"><use href="#d" x="198" y="881.6"/></g><g id="n43_3"><use href="#d" x="235.3" y="881.6"/></g><g id="n43_4"><use href="#d" x="294" y="881.6"/></g><g id="n43_5"><use href="#d" x="330" y="881.6"/></g>
<g id="n44_0"><use href="#d" x="131.3" y="901.9"/></g><g id="n44_1"><use href="#d" x="164.7" y="901.9"/></g><g id="n44_2"><use href="#d" x="198" y="901.9"/></g><g id="n44_3"><use href="#d" x="235.3" y="901.9"/></g><g id="n44_4"><use href="#d" x="296.7" y="901.9"/></g><g id="n44_5"><use href="#d" x="331.3" y="901.9"/></g>
<g id="n45_0"><use href="#d" x="131.3" y="922.2"/></g><g id="n45_1"><use href="#d" x="164.7" y="922.2"/></g><g id="n45_2"><use href="#d" x="198" y="922.2"/></g><g id="n45_3"><use href="#d" x="231.3" y="922.2"/></g><g id="n45_4"><use href="#d" x="264.7" y="922.2"/></g><g id="n45_5"><use href="#d" x="298" y="922.2"/></g><g id="n45_6"><use href="#d" x="331.3" y="922.2"/></g><g id="n45_7"><use href="#d" x="374" y="922.2"/></g>
<g id="n46_0"><use href="#d" x="131.3" y="942.4"/></g><g id="n46_1"><use href="#d" x="164.7" y="942.4"/></g><g id="n46_2"><use href="#d" x="198" y="942.4"/></g><g id="n46_3"><use href="#d" x="231.3" y="942.4"/></g><g id="n46_4"><use href="#d" x="264.7" y="942.4"/></g><g id="n46_5"><use href="#d" x="298" y="942.4"/></g><g id="n46_6"><use href="#d" x="331.3" y="942.4"/></g><g id="n46_7"><use href="#d" x="390" y="942.4"/></g>
<g id="n47_0"><use href="#d" x="131.3" y="962.7"/></g><g id="n47_1"><use href="#d" x="164.7" y="962.7"/></g><g id="n47_2"><use href="#d" x="198" y="962.7"/></g><g id="n47_3"><use href="#d" x="231.3" y="962.7"/></g><g id="n47_4"><use href="#d" x="264.7" y="962.7"/></g><g id="n47_5"><use href="#d" x="331.3" y="962.7"/></g><g id="n47_6"><use href="#d" x="364.7" y="962.7"/></g><g id="n47_7"><use href="#d" x="398" y="962.7"/></g><g id="n47_8"><use href="#d" x="431.3" y="962.7"/></g>
<g id="n48_0"><use href="#d" x="131.3" y="983"/></g><g id="n48_1"><use href="#d" x="164.7" y="983"/></g><g id="n48_2"><use href="#d" x="198" y="983"/></g><g id="n48_3"><use href="#d" x="231.3" y="983"/></g><g id="n48_4"><use href="#d" x="264.7" y="983"/></g><g id="n48_5"><use href="#d" x="331.3" y="983"/></g><g id="n48_6"><use href="#d" x="364.7" y="983"/></g><g id="n48_7"><use href="#d" x="398" y="983"/></g><g id="n48_8"><use href="#d" x="431.3" y="983"/></g>
<g id="n49_0"><use href="#d" x="131.3" y="1003.2"/></g><g id="n49_1"><use href="#d" x="164.7" y="1003.2"/></g><g id="n49_2"><use href="#d" x="198" y="1003.2"/></g><g id="n49_3"><use href="#d" x="231.3" y="1003.2"/></g><g id="n49_4"><use href="#d" x="264.7" y="1003.2"/></g><g id="n49_5"><use href="#d" x="331.3" y="1003.2"/></g><g id="n49_6"><use href="#d" x="364.7" y="1003.2"/></g><g id="n49_7"><use href="#d" x="398" y="1003.2"/></g><g id="n49_8"><use href="#d" x="436.7" y="1003.2"/></g>
<g id="n50_0"><use href="#d" x="131.3" y="1023.5"/></g><g id="n50_1"><use href="#d" x="164.7" y="1023.5"/></g><g id="n50_2"><use href="#d" x="198" y="1023.5"/></g><g id="n50_3"><use href="#d" x="231.3" y="1023.5"/></g><g id="n50_4"><use href="#d" x="264.7" y="1023.5"/></g><g id="n50_5"><use href="#d" x="331.3" y="1023.5"/></g><g id="n50_6"><use href="#d" x="364.7" y="1023.5"/></g><g id="n50_7"><use href="#d" x="398" y="1023.5"/></g><g id="n50_8"><use href="#d" x="442" y="1023.5"/></g>
<g id="n51_0"><use href="#d" x="134" y="1043.8"/></g><g id="n51_1"><use href="#d" x="167.3" y="1043.8"/></g><g id="n51_2"><use href="#d" x="215.3" y="1043.8"/></g><g id="n51_3"><use href="#d" x="264.7" y="1043.8"/></g><g id="n51_4"><use href="#d" x="319.3" y="1043.8"/></g><g id="n51_5"><use href="#d" x="352.7" y="1043.8"/></g><g id="n51_6"><use href="#d" x="442" y="1043.8"/></g><g id="n51_7"><use href="#d" x="475.3" y="1043.8"/></g>
<g id="n52_0"><use href="#d" x="134" y="1064"/></g><g id="n52_1"><use href="#d" x="167.3" y="1064"/></g><g id="n52_2"><use href="#d" x="212.7" y="1064"/></g><g id="n52_3"><use href="#d" x="264.7" y="1064"/></g><g id="n52_4"><use href="#d" x="319.3" y="1064"/></g><g id="n52_5"><use href="#d" x="356.7" y="1064"/></g><g id="n52_6"><use href="#d" x="442" y="1064"/></g><g id="n52_7"><use href="#d" x="475.3" y="1064"/></g>
<g id="n53_0"><use href="#d" x="100.7" y="1084.3"/></g><g id="n53_1"><use href="#d" x="134" y="1084.3"/></g><g id="n53_2"><use href="#d" x="167.3" y="1084.3"/></g><g id="n53_3"><use href="#d" x="208.7" y="1084.3"/></g><g id="n53_4"><use href="#d" x="242" y="1084.3"/></g><g id="n53_5"><use href="#d" x="275.3" y="1084.3"/></g><g id="n53_6"><use href="#d" x="308.7" y="1084.3"/></g><g id="n53_7"><use href="#d" x="342" y="1084.3"/></g><g id="n53_8"><use href="#d" x="375.3" y="1084.3"/></g><g id="n53_9"><use href="#d" x="408.7" y="1084.3"/></g><g id="n53_10"><use href="#d" x="442" y="1084.3"/></g><g id="n53_11"><use href="#d" x="475.3" y="1084.3"/></g>
<g id="n54_0"><use href="#d" x="100.7" y="1104.6"/></g><g id="n54_1"><use href="#d" x="134" y="1104.6"/></g><g id="n54_2"><use href="#d" x="167.3" y="1104.6"/></g><g id="n54_3"><use href="#d" x="208.7" y="1104.6"/></g><g id="n54_4"><use href="#d" x="242" y="1104.6"/></g><g id="n54_5"><use href="#d" x="275.3" y="1104.6"/></g><g id="n54_6"><use href="#d" x="308.7" y="1104.6"/></g><g id="n54_7"><use href="#d" x="342" y="1104.6"/></g><g id="n54_8"><use href="#d" x="375.3" y="1104.6"/></g><g id="n54_9"><use href="#d" x="408.7" y="1104.6"/></g><g id="n54_10"><use href="#d" x="442" y="1104.6"/></g><g id="n54_11"><use href="#d" x="475.3" y="1104.6"/></g>
<g id="n55_0"><use href="#d" x="84.7" y="1124.9"/></g><g id="n55_1"><use href="#d" x="118" y="1124.9"/></g><g id="n55_2"><use href="#d" x="175.3" y="1124.9"/></g><g id="n55_3"><use href="#d" x="208.7" y="1124.9"/></g><g id="n55_4"><use href="#d" x="242" y="1124.9"/></g><g id="n55_5"><use href="#d" x="275.3" y="1124.9"/></g><g id="n55_6"><use href="#d" x="308.7" y="1124.9"/></g><g id="n55_7"><use href="#d" x="342" y="1124.9"/></g><g id="n55_8"><use href="#d" x="408.7" y="1124.9"/></g><g id="n55_9"><use href="#d" x="458" y="1124.9"/></g><g id="n55_10"><use href="#d" x="491.3" y="1124.9"/></g>
<g id="n56_0"><use href="#d" x="84.7" y="1145.1"/></g><g id="n56_1"><use href="#d" x="118" y="1145.1"/></g><g id="n56_2"><use href="#d" x="175.3" y="1145.1"/></g><g id="n56_3"><use href="#d" x="208.7" y="1145.1"/></g><g id="n56_4"><use href="#d" x="242" y="1145.1"/></g><g id="n56_5"><use href="#d" x="275.3" y="1145.1"/></g><g id="n56_6"><use href="#d" x="308.7" y="1145.1"/></g><g id="n56_7"><use href="#d" x="342" y="1145.1"/></g><g id="n56_8"><use href="#d" x="408.7" y="1145.1"/></g><g id="n56_9"><use href="#d" x="458" y="1145.1"/></g><g id="n56_10"><use href="#d" x="491.3" y="1145.1"/></g>
<g id="n57_0"><use href="#d" x="175.3" y="1165.4"/></g><g id="n57_1"><use href="#d" x="208.7" y="1165.4"/></g><g id="n57_2"><use href="#d" x="242" y="1165.4"/></g><g id="n57_3"><use href="#d" x="275.3" y="1165.4"/></g><g id="n57_4"><use href="#d" x="308.7" y="1165.4"/></g><g id="n57_5"><use href="#d" x="391.3" y="1165.4"/></g><g id="n57_6"><use href="#d" x="424.7" y="1165.4"/></g>
<g id="n58_0"><use href="#d" x="175.3" y="1185.7"/></g><g id="n58_1"><use href="#d" x="208.7" y="1185.7"/></g><g id="n58_2"><use href="#d" x="242" y="1185.7"/></g><g id="n58_3"><use href="#d" x="275.3" y="1185.7"/></g><g id="n58_4"><use href="#d" x="308.7" y="1185.7"/></g><g id="n58_5"><use href="#d" x="391.3" y="1185.7"/></g><g id="n58_6"><use href="#d" x="424.7" y="1185.7"/></g>
<g id="n59_0"><use href="#d" x="175.3" y="1205.9"/></g><g id="n59_1"><use href="#d" x="208.7" y="1205.9"/></g><g id="n59_2"><use href="#d" x="242" y="1205.9"/></g><g id="n59_3"><use href="#d" x="358" y="1205.9"/></g><g id="n59_4"><use href="#d" x="391.3" y="1205.9"/></g><g id="n59_5"><use href="#d" x="424.7" y="1205.9"/></g><g id="n59_6"><use href="#d" x="458" y="1205.9"/></g>
<g id="n60_0"><use href="#d" x="175.3" y="1226.2"/></g><g id="n60_1"><use href="#d" x="208.7" y="1226.2"/></g><g id="n60_2"><use href="#d" x="242" y="1226.2"/></g><g id="n60_3"><use href="#d" x="358" y="1226.2"/></g><g id="n60_4"><use href="#d" x="391.3" y="1226.2"/></g><g id="n60_5"><use href="#d" x="424.7" y="1226.2"/></g><g id="n60_6"><use href="#d" x="458" y="1226.2"/></g>
<g id="n61_0"><use href="#d" x="142" y="1246.5"/></g><g id="n61_1"><use href="#d" x="175.3" y="1246.5"/></g><g id="n61_2"><use href="#d" x="208.7" y="1246.5"/></g><g id="n61_3"><use href="#d" x="242" y="1246.5"/></g><g id="n61_4"><use href="#d" x="358" y="1246.5"/></g><g id="n61_5"><use href="#d" x="424.7" y="1246.5"/></g>
<g id="n62_0"><use href="#d" x="142" y="1266.7"/></g><g id="n62_1"><use href="#d" x="175.3" y="1266.7"/></g><g id="n62_2"><use href="#d" x="208.7" y="1266.7"/></g><g id="n62_3"><use href="#d" x="242" y="1266.7"/></g><g id="n62_4"><use href="#d" x="358" y="1266.7"/></g><g id="n62_5"><use href="#d" x="424.7" y="1266.7"/></g>
<g id="n63_0"><use href="#d" x="108.7" y="1287"/></g><g id="n63_1"><use href="#d" x="142" y="1287"/></g><g id="n63_2"><use href="#d" x="175.3" y="1287"/></g><g id="n63_3"><use href="#d" x="226" y="1287"/></g><g id="n63_4"><use href="#d" x="259.3" y="1287"/></g>
<g id="n64_0"><use href="#d" x="108.7" y="1307.3"/></g><g id="n64_1"><use href="#d" x="142" y="1307.3"/></g><g id="n64_2"><use href="#d" x="175.3" y="1307.3"/></g><g id="n64_3"><use href="#d" x="226" y="1307.3"/></g><g id="n64_4"><use href="#d" x="259.3" y="1307.3"/></g>
<g id="n65_0"><use href="#d" x="92.7" y="1327.6"/></g><g id="n65_1"><use href="#d" x="126" y="1327.6"/></g><g id="n65_2"><use href="#d" x="175.3" y="1327.6"/></g><g id="n65_3"><use href="#d" x="226" y="1327.6"/></g>
<g id="n66_0"><use href="#d" x="92.7" y="1347.8"/></g><g id="n66_1"><use href="#d" x="126" y="1347.8"/></g><g id="n66_2"><use href="#d" x="175.3" y="1347.8"/></g><g id="n66_3"><use href="#d" x="226" y="1347.8"/></g>
<g id="n67_0"><use href="#d" x="76.7" y="1368.1"/></g><g id="n67_1"><use href="#d" x="126" y="1368.1"/></g><g id="n67_2"><use href="#d" x="162" y="1368.1"/></g>
<g id="n68_0"><use href="#d" x="76.7" y="1388.4"/></g><g id="n68_1"><use href="#d" x="126" y="1388.4"/></g><g id="n68_2"><use href="#d" x="163.3" y="1388.4"/></g>
<g id="n69_0"><use href="#d" x="43.3" y="1408.6"/></g><g id="n69_1"><use href="#d" x="76.7" y="1408.6"/></g><g id="n69_2"><use href="#d" x="126" y="1408.6"/></g><g id="n69_3"><use href="#d" x="167.3" y="1408.6"/></g>
<g id="n70_0"><use href="#d" x="43.3" y="1428.9"/></g><g id="n70_1"><use href="#d" x="76.7" y="1428.9"/></g><g id="n70_2"><use href="#d" x="126" y="1428.9"/></g><g id="n70_3"><use href="#d" x="175.3" y="1428.9"/></g>
<g id="n71_0"><use href="#d" x="10" y="1449.2"/></g><g id="n71_1"><use href="#d" x="43.3" y="1449.2"/></g><g id="n71_2"><use href="#d" x="76.7" y="1449.2"/></g><g id="n71_3"><use href="#d" x="110" y="1449.2"/></g><g id="n71_4"><use href="#d" x="143.3" y="1449.2"/></g><g id="n71_5"><use href="#d" x="176.7" y="1449.2"/></g>
<g id="n72_0"><use href="#d" x="10" y="1469.4"/></g><g id="n72_1"><use href="#d" x="43.3" y="1469.4"/></g><g id="n72_2"><use href="#d" x="76.7" y="1469.4"/></g><g id="n72_3"><use href="#d" x="110" y="1469.4"/></g><g id="n72_4"><use href="#d" x="143.3" y="1469.4"/></g><g id="n72_5"><use href="#d" x="176.7" y="1469.4"/></g>
<g id="n73_0"><use href="#d" x="27.3" y="1489.7"/></g><g id="n73_1"><use href="#d" x="60.7" y="1489.7"/></g><g id="n73_2"><use href="#d" x="159.3" y="1489.7"/></g><g id="n73_3"><use href="#d" x="192.7" y="1489.7"/></g>
<g id="n74_0"><use href="#d" x="27.3" y="1510"/></g><g id="n74_1"><use href="#d" x="60.7" y="1510"/></g><g id="n74_2"><use href="#d" x="159.3" y="1510"/></g><g id="n74_3"><use href="#d" x="192.7" y="1510"/></g>
<g id="n75_0"><use href="#d" x="11.3" y="1530.3"/></g><g id="n75_1"><use href="#d" x="44.7" y="1530.3"/></g><g id="n75_2"><use href="#d" x="159.3" y="1530.3"/></g><g id="n75_3"><use href="#d" x="192.7" y="1530.3"/></g>
<g id="n76_0"><use href="#d" x="11.3" y="1550.5"/></g><g id="n76_1"><use href="#d" x="44.7" y="1550.5"/></g><g id="n76_2"><use href="#d" x="159.3" y="1550.5"/></g><g id="n76_3"><use href="#d" x="192.7" y="1550.5"/></g>
<g id="n77_0"><use href="#d" x="27.3" y="1570.8"/></g><g id="n77_1"><use href="#d" x="60.7" y="1570.8"/></g><g id="n77_2"><use href="#d" x="159.3" y="1570.8"/></g><g id="n77_3"><use href="#d" x="192.7" y="1570.8"/></g>
<g id="n78_0"><use href="#d" x="27.3" y="1591.1"/></g><g id="n78_1"><use href="#d" x="60.7" y="1591.1"/></g><g id="n78_2"><use href="#d" x="159.3" y="1591.1"/></g><g id="n78_3"><use href="#d" x="192.7" y="1591.1"/></g>
<g id="n79_0"><use href="#d" x="11.3" y="1611.3"/></g><g id="n79_1"><use href="#d" x="44.7" y="1611.3"/></g>
<g id="n80_0"><use href="#d" x="11.3" y="1631.6"/></g><g id="n80_1"><use href="#d" x="44.7" y="1631.6"/></g>
<g id="n81_0"><use href="#d" x="11.3" y="1651.9"/></g>
<g id="n82_0"><use href="#d" x="11.3" y="1672.1"/></g>
<g id="n83_0"><use href="#d" x="11.3" y="1692.4"/></g>
<g id="n84_0"><use href="#d" x="11.3" y="1712.7"/></g>
</g>
</svg>
